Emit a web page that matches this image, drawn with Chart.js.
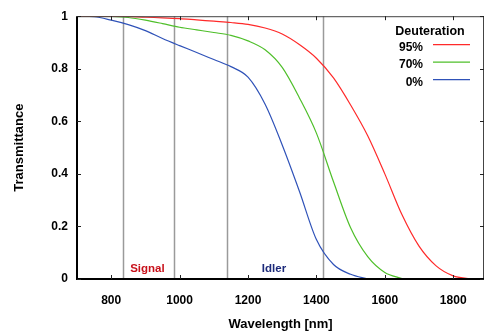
<!DOCTYPE html>
<html lang="en">
  <head>
    <meta charset="UTF-8" />
    <title>Transmittance vs wavelength</title>
    <script src="https://cdn.jsdelivr.net/npm/chart.js@4.4.0/dist/chart.umd.min.js"></script>
    <style>
      body { margin: 0; background: #fff; }
      #wrap { width: 485px; height: 334px; }
    </style>
  </head>
  <body>
    <div id="wrap"><canvas id="chart" width="485" height="334"></canvas></div>

    <script>
      // wavelength samples (nm)
      const wavelength = [700, 750, 800, 850, 900, 950, 1000, 1050, 1100, 1150, 1200, 1250, 1300,
                          1350, 1400, 1450, 1500, 1550, 1600, 1650, 1700, 1750, 1800, 1850];
      const deut95 = [1, 1, 1, 0.999, 0.996, 0.994, 0.991, 0.986, 0.981, 0.976, 0.969, 0.955, 0.932,
                      0.892, 0.84, 0.765, 0.662, 0.545, 0.4, 0.245, 0.125, 0.05, 0.012, 0];
      const deut70 = [1, 1, 0.999, 0.995, 0.985, 0.972, 0.958, 0.948, 0.938, 0.927, 0.906, 0.872, 0.805,
                      0.69, 0.555, 0.37, 0.195, 0.085, 0.025, 0.002, null, null, null, null];
      const deut0  = [1, 0.998, 0.985, 0.968, 0.945, 0.915, 0.888, 0.862, 0.835, 0.808, 0.768, 0.665, 0.51,
                      0.335, 0.15, 0.055, 0.018, 0.0, null, null, null, null, null, null];

      const seriesNames = ['95%', '70%', '0%'];
      const seriesColors = ['#ff2a2a', '#4fbf2a', '#2f52b8'];

      const xTicks = [800, 1000, 1200, 1400, 1600, 1800];
      const yTicks = [0, 0.2, 0.4, 0.6, 0.8, 1];

      // gray marker lines and band labels
      const markerLines = [834, 984, 1139, 1418];
      const bandLabels = [
        { text: 'Signal', x: 906, y: 0.038, color: '#c8101a' },
        { text: 'Idler', x: 1276, y: 0.038, color: '#1c2a7a' }
      ];

      const FONT = 'Liberation Sans, Arial, sans-serif';

      function toPoints(vals) {
        return wavelength.map((w, i) => ({ x: w, y: vals[i] }));
      }

      // vertical lines, frame, inward ticks, labels and legend
      const decor = {
        id: 'decor',
        beforeDatasetsDraw(chart) {
          const { ctx, chartArea: a, scales: { x } } = chart;
          ctx.save();
          ctx.strokeStyle = '#9a9a9a';
          ctx.lineWidth = 1.5;
          markerLines.forEach(v => {
            const px = Math.round(x.getPixelForValue(v)) + 0.5;
            ctx.beginPath();
            ctx.moveTo(px, a.top);
            ctx.lineTo(px, a.bottom);
            ctx.stroke();
          });
          ctx.restore();
        },
        afterDraw(chart) {
          const { ctx, chartArea: a, scales: { x, y } } = chart;
          ctx.save();
          // frame
          ctx.strokeStyle = '#444';
          ctx.lineWidth = 1;
          ctx.strokeRect(a.left + 0.5, a.top + 0.5, a.right - a.left - 1, a.bottom - a.top);
          ctx.strokeStyle = '#000';
          ctx.lineWidth = 2;
          ctx.beginPath();
          ctx.moveTo(a.left, a.top);
          ctx.lineTo(a.left, a.bottom);
          ctx.lineTo(a.right, a.bottom);
          ctx.stroke();
          // inward ticks
          ctx.lineWidth = 1;
          ctx.strokeStyle = '#222';
          xTicks.forEach(v => {
            const px = Math.round(x.getPixelForValue(v)) + 0.5;
            ctx.beginPath();
            ctx.moveTo(px, a.bottom); ctx.lineTo(px, a.bottom - 4);
            ctx.moveTo(px, a.top); ctx.lineTo(px, a.top + 4);
            ctx.stroke();
          });
          yTicks.forEach(v => {
            const py = Math.round(y.getPixelForValue(v)) + 0.5;
            ctx.beginPath();
            ctx.moveTo(a.left, py); ctx.lineTo(a.left + 4, py);
            ctx.moveTo(a.right, py); ctx.lineTo(a.right - 4, py);
            ctx.stroke();
          });
          // band labels
          ctx.font = 'bold 11.5px ' + FONT;
          ctx.textAlign = 'center';
          ctx.textBaseline = 'middle';
          bandLabels.forEach(l => {
            ctx.fillStyle = l.color;
            ctx.fillText(l.text, x.getPixelForValue(l.x), y.getPixelForValue(l.y));
          });
          // legend
          const lx = a.right - 53;
          ctx.fillStyle = '#000';
          ctx.font = 'bold 12.5px ' + FONT;
          ctx.fillText('Deuteration', lx - 1, a.top + 15);
          ctx.font = 'bold 12px ' + FONT;
          ctx.textAlign = 'right';
          chart.data.datasets.forEach((ds, i) => {
            const ty = a.top + 31 + i * 17.5;
            ctx.fillStyle = '#000';
            ctx.fillText(ds.label, lx - 8, ty);
            ctx.strokeStyle = ds.borderColor;
            ctx.lineWidth = 1.2;
            ctx.beginPath();
            ctx.moveTo(lx + 2, ty - 2.5);
            ctx.lineTo(lx + 39, ty - 2.5);
            ctx.stroke();
          });
          ctx.restore();
        }
      };

      const ctx = document.getElementById('chart').getContext('2d');
      const myChart = new Chart(ctx, {
        type: 'line',
        data: {
          datasets: [deut95, deut70, deut0].map((vals, i) => ({
            label: seriesNames[i],
            data: toPoints(vals),
            borderColor: seriesColors[i],
            borderWidth: 1.2,
            pointRadius: 0,
            fill: false,
            spanGaps: false,
            cubicInterpolationMode: 'monotone'
          }))
        },
        options: {
          responsive: false,
          animation: false,
          events: [],
          layout: { padding: { left: 0, right: 1, top: 14, bottom: 0 } },
          plugins: { legend: { display: false }, tooltip: { enabled: false } },
          scales: {
            x: {
              type: 'linear',
              min: 700,
              max: 1890,
              afterBuildTicks: s => { s.ticks = xTicks.map(v => ({ value: v })); },
              afterFit: s => { s.height = 55; },
              grid: { display: false, drawTicks: false },
              border: { display: false },
              ticks: { padding: 14, color: '#000', maxRotation: 0, autoSkip: false,
                       callback: v => String(v),
                       font: { family: FONT, size: 12, weight: 'bold' } },
              title: { display: true, text: 'Wavelength [nm]', color: '#000',
                       font: { family: FONT, size: 13, weight: 'bold' },
                       padding: { top: 0, bottom: 2 } }
            },
            y: {
              min: 0,
              max: 1,
              afterBuildTicks: s => { s.ticks = yTicks.map(v => ({ value: v })); },
              afterFit: s => { s.width = 77; },
              grid: { display: false, drawTicks: false },
              border: { display: false },
              ticks: { padding: 9, color: '#000', autoSkip: false,
                       callback: v => (v === 0 || v === 1) ? String(v) : v.toFixed(1),
                       font: { family: FONT, size: 12, weight: 'bold' } },
              title: { display: true, text: 'Transmittance', color: '#000',
                       font: { family: FONT, size: 13, weight: 'bold' },
                       padding: { top: 12, bottom: 0 } }
            }
          }
        },
        plugins: [decor]
      });
    </script>
  </body>
</html>
